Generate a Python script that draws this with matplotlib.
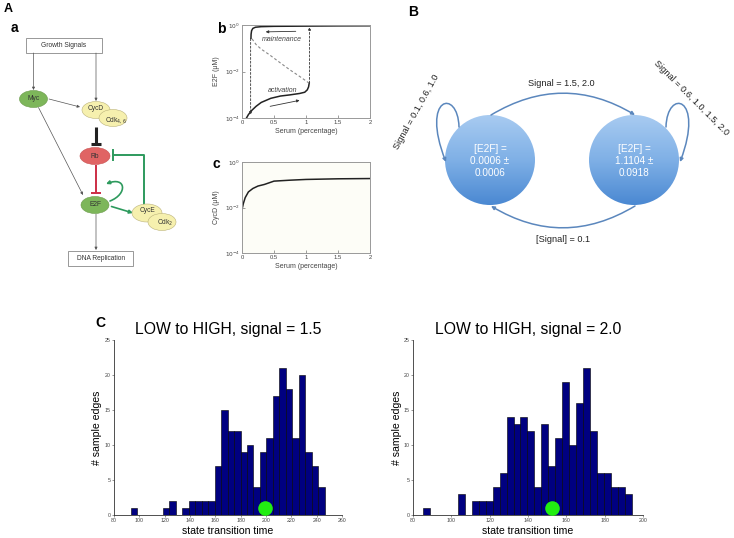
import numpy as np
import matplotlib
matplotlib.use('Agg')
import matplotlib.pyplot as plt
from matplotlib.patches import Ellipse, Rectangle, Circle, FancyArrowPatch
from matplotlib.path import Path
from matplotlib.colors import LinearSegmentedColormap

W, H = 734, 538
plt.rcParams['font.family'] = ['Liberation Sans', 'DejaVu Sans']

# ---------------- data ----------------
# Panel C histograms (30 bins each)
sig15_counts = [1, 0, 0, 0, 0, 1, 2, 0, 1, 2, 2, 2, 2, 7, 15, 12, 12, 9, 10, 4,
                9, 11, 17, 21, 18, 11, 20, 9, 7, 4]
sig15_bin_start = 93.2
sig15_bin_width = 5.1
sig15_mean = 199.5
sig15_xticks = [80, 100, 120, 140, 160, 180, 200, 220, 240, 260]

sig20_counts = [1, 0, 0, 0, 0, 3, 0, 2, 2, 2, 4, 6, 14, 13, 14, 12, 4, 13, 7, 11,
                19, 10, 16, 21, 12, 6, 6, 4, 4, 3]
sig20_bin_start = 85.4
sig20_bin_width = 3.62
sig20_mean = 152.3
sig20_xticks = [80, 100, 120, 140, 160, 180, 200]

count_yticks = [0, 5, 10, 15, 20, 25]

# Panel b bifurcation curve (serum %, E2F uM)
b_low_x = [0.07, 0.10, 0.15, 0.22, 0.30, 0.45, 0.60, 0.75, 0.90, 0.98, 1.02, 1.04, 1.05]
b_low_y = [1.0e-4, 1.4e-4, 2.1e-4, 3.2e-4, 4.7e-4, 7.1e-4, 8.9e-4, 1.0e-3, 1.15e-3,
           1.3e-3, 1.65e-3, 2.2e-3, 3.2e-3]
b_uns_x = [1.05, 0.90, 0.75, 0.60, 0.43, 0.30, 0.22, 0.15]
b_uns_y = [3.2e-3, 6.3e-3, 1.2e-2, 2.4e-2, 5.4e-2, 9.5e-2, 0.15, 0.28]
b_up_x = [0.14, 0.142, 0.15, 0.17, 0.21, 0.30, 0.50, 1.0, 1.5, 2.0]
b_up_y = [0.28, 0.42, 0.6, 0.75, 0.84, 0.89, 0.92, 0.94, 0.96, 0.97]

# Panel c CycD curve
c_x = [0.0, 0.01, 0.02, 0.05, 0.10, 0.17, 0.25, 0.35, 0.50, 0.75, 1.0, 1.5, 2.0]
c_y = [8.9e-3, 1.1e-2, 1.5e-2, 2.8e-2, 5.0e-2, 7.1e-2, 9.1e-2, 0.107, 0.15, 0.165,
       0.178, 0.19, 0.195]
serum_ticks = [0, 0.5, 1, 1.5, 2]
serum_ticklabels = ['0', '0.5', '1', '1.5', '2']
log_ticks = [1e-4, 1e-2, 1e0]
log_ticklabels = [r'$10^{-4}$', r'$10^{-2}$', r'$10^{0}$']

# Panel B state values
low_state = "[E2F] =\n0.0006 \u00b1\n0.0006"
high_state = "[E2F] =\n1.1104 \u00b1\n0.0918"


def fpos(l, t, r, b):
    return [l / W, 1 - b / H, (r - l) / W, (b - t) / H]


fig = plt.figure(figsize=(W / 100, H / 100), dpi=100)
fig.patch.set_facecolor('white')

canvas = fig.add_axes([0, 0, 1, 1])
canvas.set_xlim(0, W)
canvas.set_ylim(H, 0)
canvas.axis('off')

# ---------------- panel letters ----------------
canvas.text(8, 9, 'A', fontsize=9, fontweight='bold', ha='center', va='center')
canvas.text(14, 28, 'a', fontsize=10, fontweight='bold', ha='center', va='center')
canvas.text(221, 29, 'b', fontsize=10, fontweight='bold', ha='center', va='center')
canvas.text(216, 164, 'c', fontsize=10, fontweight='bold', ha='center', va='center')
canvas.text(413, 12, 'B', fontsize=10, fontweight='bold', ha='center', va='center')
canvas.text(100, 323, 'C', fontsize=10, fontweight='bold', ha='center', va='center')

# ---------------- panel a: network diagram ----------------
gray = '#555555'
green_node = '#7db65a'
red_node = '#e06464'
yellow_node = '#f6f0ae'
green_arrow = '#2d9a5d'
red_t = '#cc2e45'
fs_a = 4.8

canvas.add_patch(Rectangle((25.7, 37.7), 76, 15, fc='white', ec='#888888', lw=0.6))
canvas.text(63.7, 45.2, 'Growth Signals', fontsize=fs_a, ha='center', va='center', color='#333333')
canvas.add_patch(Rectangle((68.3, 250.7), 65, 15, fc='white', ec='#888888', lw=0.6))
canvas.text(100.8, 258.2, 'DNA Replication', fontsize=fs_a, ha='center', va='center', color='#333333')

def node(x, y, w, h, fc, label, tx=None, ty=None, ec='#999999'):
    canvas.add_patch(Ellipse((x, y), w, h, fc=fc, ec=ec, lw=0.4, zorder=3))
    canvas.text(x if tx is None else tx, y if ty is None else ty, label, fontsize=fs_a,
                ha='center', va='center', color='#333333', zorder=4)

node(33.5, 99, 28, 17, green_node, 'Myc', ec='#6a9a4a')
node(96, 110, 28, 17, yellow_node, 'CycD', ty=108, ec='#bbb27a')
node(113, 118, 28, 17, yellow_node, r'Cdk$_{4,6}$', tx=116, ty=120, ec='#bbb27a')
node(95, 156, 30, 17, red_node, 'Rb', ec='#c85050')
node(95, 205, 28, 17, green_node, 'E2F', ec='#6a9a4a')
node(147, 213, 30, 18, yellow_node, 'CycE', ty=211, ec='#bbb27a')
node(162, 222, 28, 17, yellow_node, r'Cdk$_{2}$', tx=165, ty=223, ec='#bbb27a')

def arrow(p0, p1, color=gray, lw=0.5, ms=4, cs='arc3', z=2):
    canvas.add_patch(FancyArrowPatch(p0, p1, arrowstyle='-|>', color=color, lw=lw,
                                     mutation_scale=ms, shrinkA=0, shrinkB=0,
                                     connectionstyle=cs, zorder=z))

arrow((33.5, 53), (33.5, 90))
arrow((96, 53), (96, 101))
arrow((49, 99), (80, 107))
arrow((38.5, 107.5), (83, 195))
arrow((96, 214), (96, 250))

# inhibition: CycD -| Rb
canvas.plot([96, 96], [127, 144], color='#222222', lw=2.2, solid_capstyle='butt', zorder=2)
canvas.plot([91, 101], [144, 144], color='#222222', lw=2.2, solid_capstyle='butt', zorder=2)
# Rb -| E2F
canvas.plot([96, 96], [165, 193], color=red_t, lw=1.4, solid_capstyle='butt', zorder=2)
canvas.plot([91, 101], [193, 193], color=red_t, lw=1.4, solid_capstyle='butt', zorder=2)
# CycE -| Rb
canvas.plot([143.5, 143.5, 112.5], [204, 155, 155], color=green_arrow, lw=1.4, zorder=2)
canvas.plot([112.5, 112.5], [150, 160], color=green_arrow, lw=1.4, zorder=2)
# E2F self activation
loopE = Path([(110, 201), (128, 194), (126, 176), (106, 184)],
             [Path.MOVETO, Path.CURVE4, Path.CURVE4, Path.CURVE4])
canvas.add_patch(FancyArrowPatch(path=loopE, arrowstyle='-|>', color=green_arrow, lw=1.2,
                                 mutation_scale=5, zorder=2))
# E2F -> CycE
arrow((111.5, 206.5), (133, 213), color=green_arrow, lw=1.2, ms=5)

# ---------------- panel b ----------------
tick_fs = 4.2
axb = fig.add_axes(fpos(242, 25, 370, 118))
axb.set_yscale('log')
axb.set_xlim(0, 2)
axb.set_ylim(1e-4, 1.05)
axb.plot(b_low_x, b_low_y, color='#222222', lw=1.1)
axb.plot(b_up_x, b_up_y, color='#222222', lw=1.1)
axb.plot(b_uns_x, b_uns_y, color='#888888', lw=0.8, ls=(0, (2.5, 2)))
axb.annotate('', xy=(0.135, 1.4e-4), xytext=(0.135, 0.27),
             arrowprops=dict(arrowstyle='-|>', color='#333333', lw=0.6, ls=(0, (2.5, 2)),
                             mutation_scale=4, shrinkA=0, shrinkB=0))
axb.annotate('', xy=(1.055, 0.85), xytext=(1.055, 3.2e-3),
             arrowprops=dict(arrowstyle='-|>', color='#333333', lw=0.6, ls=(0, (2.5, 2)),
                             mutation_scale=4, shrinkA=0, shrinkB=0))
axb.annotate('', xy=(0.37, 0.53), xytext=(0.84, 0.56),
             arrowprops=dict(arrowstyle='-|>', color='#333333', lw=0.6,
                             mutation_scale=4, shrinkA=0, shrinkB=0))
axb.annotate('', xy=(0.9, 5.8e-4), xytext=(0.44, 3.2e-4),
             arrowprops=dict(arrowstyle='-|>', color='#333333', lw=0.6,
                             mutation_scale=4, shrinkA=0, shrinkB=0))
axb.text(0.63, 0.25, 'maintenance', fontsize=5, style='italic', ha='center', va='center', color='#444444')
axb.text(0.63, 1.6e-3, 'activation', fontsize=5, style='italic', ha='center', va='center', color='#444444')

axc = fig.add_axes(fpos(242, 162, 370, 253))
axc.set_facecolor('#fdfdf7')
axc.set_yscale('log')
axc.set_xlim(0, 2)
axc.set_ylim(1e-4, 1.05)
axc.plot(c_x, c_y, color='#222222', lw=1.1)

for ax, ylab in ((axb, 'E2F (\u03bcM)'), (axc, 'CycD (\u03bcM)')):
    ax.set_xticks(serum_ticks)
    ax.set_xticklabels(serum_ticklabels)
    ax.set_yticks(log_ticks)
    ax.set_yticklabels(log_ticklabels)
    ax.yaxis.set_minor_locator(matplotlib.ticker.NullLocator())
    ax.tick_params(direction='in', length=2, width=0.4, labelsize=tick_fs, pad=1.5,
                   colors='#555555', labelcolor='#444444')
    for s in ax.spines.values():
        s.set_color('#999999')
        s.set_linewidth(0.7)
    ax.set_xlabel('Serum (percentage)', fontsize=5, color='#444444', labelpad=2)
    ax.set_ylabel(ylab, fontsize=5, color='#444444', labelpad=3)

# ---------------- panel B: state diagram ----------------
cmap = LinearSegmentedColormap.from_list('bl', ['#a8cbf1', '#7fb0e6', '#4a88d2'])
grad = np.linspace(0, 1, 256).reshape(-1, 1)
for cx, txt in ((490, low_state), (634, high_state)):
    r = 45
    circ = Circle((cx, 160), r, fc='none', ec='none', transform=canvas.transData)
    canvas.add_patch(circ)
    im = canvas.imshow(grad, extent=(cx - r, cx + r, 160 + r, 160 - r), cmap=cmap,
                       aspect='auto', zorder=2, interpolation='bilinear')
    im.set_clip_path(circ)
    canvas.text(cx, 161, txt, fontsize=7.2, color='white', ha='center', va='center',
                linespacing=1.3, zorder=3)
canvas.set_xlim(0, W)
canvas.set_ylim(H, 0)

arc_c = '#5b87bd'
canvas.add_patch(FancyArrowPatch((491, 115), (635, 115), arrowstyle='-|>', color=arc_c, lw=1.1,
                                 mutation_scale=5, shrinkA=0, shrinkB=0,
                                 connectionstyle='arc3,rad=-0.3', zorder=3))
canvas.add_patch(FancyArrowPatch((635, 206), (491, 206), arrowstyle='-|>', color=arc_c, lw=1.1,
                                 mutation_scale=5, shrinkA=0, shrinkB=0,
                                 connectionstyle='arc3,rad=-0.3', zorder=3))
loopL = Path([(459, 127), (458, 88), (420, 96), (446, 162)],
             [Path.MOVETO, Path.CURVE4, Path.CURVE4, Path.CURVE4])
canvas.add_patch(FancyArrowPatch(path=loopL, arrowstyle='-|>', color=arc_c, lw=1.1,
                                 mutation_scale=5, zorder=3))
loopR = Path([(666, 127), (667, 88), (705, 96), (680, 162)],
             [Path.MOVETO, Path.CURVE4, Path.CURVE4, Path.CURVE4])
canvas.add_patch(FancyArrowPatch(path=loopR, arrowstyle='-|>', color=arc_c, lw=1.1,
                                 mutation_scale=5, zorder=3))

fsB = 6.6
canvas.text(561, 84, 'Signal = 1.5, 2.0', fontsize=fsB, ha='center', va='center', color='#222222')
canvas.text(563, 239, '[Signal] = 0.1', fontsize=fsB, ha='center', va='center', color='#222222')
canvas.text(417, 112, 'Signal = 0.1, 0.6, 1.0', fontsize=fsB, ha='center', va='center',
            rotation=61, rotation_mode='anchor', color='#222222')
canvas.text(691, 98, 'Signal = 0.6, 1.0, 1.5, 2.0', fontsize=fsB, ha='center', va='center',
            rotation=-45, rotation_mode='anchor', color='#222222')

# ---------------- panel C: histograms ----------------
def hist_panel(rect, counts, start, width, mean, xticks, title, ylab_off):
    ax = fig.add_axes(fpos(*rect))
    edges = start + width * np.arange(len(counts))
    ax.bar(edges, counts, width=width, align='edge', color='#000080',
           edgecolor='#000000', linewidth=0.4)
    ax.plot([mean], [1], 'o', ms=10.5, color='#22ee11', mec='none', zorder=5, clip_on=False)
    ax.set_xlim(xticks[0], xticks[-1])
    ax.set_ylim(0, 25)
    ax.set_xticks(xticks)
    ax.set_yticks(count_yticks)
    ax.tick_params(direction='out', length=1.5, width=0.4, labelsize=3.8, pad=1,
                   colors='#444444')
    for s in ('top', 'right'):
        ax.spines[s].set_visible(False)
    for s in ('left', 'bottom'):
        ax.spines[s].set_linewidth(0.6)
        ax.spines[s].set_color('#333333')
    ax.set_title(title, fontsize=11.3, pad=4)
    ax.set_xlabel('state transition time', fontsize=7.6, va='center')
    ax.xaxis.set_label_coords(0.5, -16.5 / 175)
    ax.set_ylabel('# sample edges', fontsize=7.6, va='center')
    ax.yaxis.set_label_coords(-ylab_off / (rect[2] - rect[0]), 0.5)
    return ax

hist_panel((114, 340, 342, 515), sig15_counts, sig15_bin_start, sig15_bin_width, sig15_mean,
           sig15_xticks, 'LOW to HIGH, signal = 1.5', 17)
hist_panel((413, 340, 643, 515), sig20_counts, sig20_bin_start, sig20_bin_width, sig20_mean,
           sig20_xticks, 'LOW to HIGH, signal = 2.0', 16)

fig.savefig('out.png', dpi=100)
